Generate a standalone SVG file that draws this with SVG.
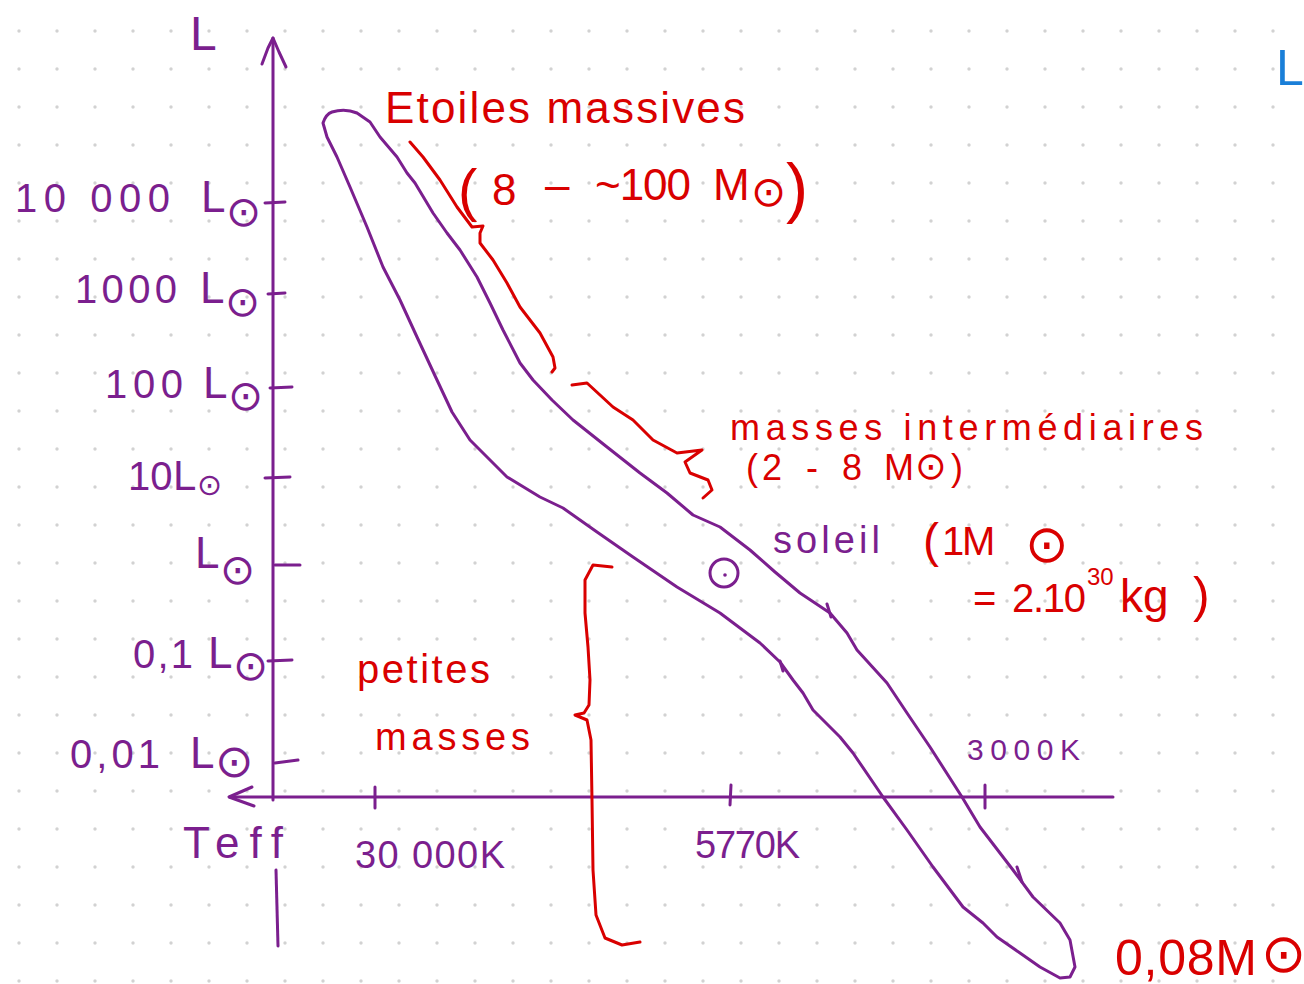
<svg xmlns="http://www.w3.org/2000/svg" width="1304" height="984" viewBox="0 0 1304 984">
<defs>
<pattern id="dots" patternUnits="userSpaceOnUse" x="0" y="0" width="38" height="38">
<circle cx="19" cy="31" r="1.7" fill="#d2d2d2"/>
</pattern>
<style>
.p{fill:none;stroke:#7b1f8e;stroke-width:3;stroke-linecap:round;stroke-linejoin:round}
.r{fill:none;stroke:#d90000;stroke-width:3;stroke-linecap:round;stroke-linejoin:round}
.tp{fill:#7b1f8e;font-family:"Liberation Sans","DejaVu Sans",sans-serif}
.tr{fill:#d90000;font-family:"Liberation Sans","DejaVu Sans",sans-serif}
.sun{font-family:"DejaVu Sans",sans-serif}
</style>
</defs>
<rect width="1304" height="984" fill="#ffffff"/>
<rect width="1304" height="984" fill="url(#dots)"/>

<g id="axes">
<path class="p" d="M273,38 L273,800"/>
<path class="p" d="M262,64 L268,48 L273,38 L279,52 L286,67"/>
<path class="p" d="M230,797 L1113,797"/>
<path class="p" d="M252,787 L229,797 L254,806"/>
<path class="p" d="M265,203 L285,202 M268,294 L285,293 M270,388 L292,387 M265,478 L290,477 M275,565 L300,565 M268,661 L292,660 M275,763 L298,760"/>
<path class="p" d="M375,787 L375,808 M731,785 L730,805 M985,785 L985,808"/>
<path class="p" d="M276,870 Q277,910 278,946"/>
</g>

<g id="main-sequence">
<path class="p" d="M327,137 L323,123 Q326,114 332,112 Q345,108 357,113 L370,122 L380,137 L397,157 L407,173 L415,183 L433,213 L447,233 L460,250 L477,277 L490,303 L503,330 L520,363 L533,380 L552,400 L573,420 L607,447 L640,473 L667,493 L693,515 L720,527 L750,550 L775,572 L800,593 L830,613 L847,633 L857,650 L887,683 L907,713 L930,747 L962,797 L980,827 L1013,870 L1033,897 L1060,923 L1070,940 L1075,967 L1070,977 L1060,978 L1040,967 L1020,953 L997,937 L983,923 L963,907 L933,867 L907,830 L883,797 L853,753 L840,737 L813,710 L803,693 L793,680 L780,662 L760,643 L720,613 L677,587 L633,557 L597,532 L563,508 L540,497 L507,477 L470,440 L452,412 L437,380 L417,337 L400,300 L383,267 L367,227 L350,187 L337,157 L327,137"/>
<path class="p" d="M827,604 L831,617 M780,661 L783,671 M1017,867 L1022,882"/>
</g>

<g id="sun-symbol">
<circle class="p" cx="724" cy="573" r="14"/>
<circle cx="725" cy="575" r="1.8" fill="#7b1f8e"/>
</g>

<g id="braces">
<path class="r" d="M410,142 L423,157 L440,180 L457,207 L472,227 L483,226 L480,233 L480,243 L493,260 L507,283 L520,307 L540,333 L553,357 L555,368 L552,372"/>
<path class="r" d="M572,385 L587,383 L613,407 L633,420 L653,440 L677,453 L702,450 L685,462 L690,473 L708,480 L712,490 L703,498"/>
<path class="r" d="M612,567 L593,565 L585,580 L585,613 L588,647 L590,680 L589,705 L584,713 L575,715 L587,720 L591,740 L592,800 L593,870 L596,915 L605,938 L622,945 L640,942"/>
</g>

<g id="y-labels" class="tp" font-size="40">
<text><tspan x="15" y="212" textLength="155">10 000</tspan><tspan x="201" y="212" font-size="44">L</tspan><tspan class="sun" x="226" y="226" font-size="42">⊙</tspan></text>
<text><tspan x="75" y="303" textLength="102">1000</tspan><tspan x="200" y="303" font-size="44">L</tspan><tspan class="sun" x="225" y="316" font-size="42">⊙</tspan></text>
<text><tspan x="105" y="398" textLength="78">100</tspan><tspan x="203" y="398" font-size="44">L</tspan><tspan class="sun" x="228" y="410" font-size="42">⊙</tspan></text>
<text><tspan x="128" y="490">10</tspan><tspan x="173" y="490" font-size="42">L</tspan><tspan class="sun" x="197" y="495" font-size="30">⊙</tspan></text>
<text><tspan x="195" y="568" font-size="44">L</tspan><tspan class="sun" x="220" y="584" font-size="42">⊙</tspan></text>
<text><tspan x="133" y="668" textLength="60">0,1</tspan><tspan x="208" y="668" font-size="44">L</tspan><tspan class="sun" x="233" y="680" font-size="42">⊙</tspan></text>
<text><tspan x="70" y="768" textLength="90">0,01</tspan><tspan x="190" y="768" font-size="44">L</tspan><tspan class="sun" x="215" y="777" font-size="46">⊙</tspan></text>
</g>

<g id="axis-labels" class="tp">
<text x="190" y="50" font-size="48">L</text>
<text x="183" y="858" font-size="44" textLength="100">Teff</text>
<text x="355" y="868" font-size="38" textLength="150">30 000K</text>
<text x="695" y="858" font-size="38" textLength="105">5770K</text>
<text x="967" y="760" font-size="30" textLength="113">3000K</text>
<text x="773" y="553" font-size="38" textLength="107">soleil</text>
</g>

<g id="red-labels" class="tr">
<text x="385" y="123" font-size="44" textLength="360">Etoiles massives</text>
<text font-size="44"><tspan x="458" font-size="58" y="210">(</tspan><tspan x="492" y="205">8</tspan><tspan x="545" y="200">–</tspan><tspan x="595" y="200" textLength="96">~100</tspan><tspan x="713" y="200">M</tspan><tspan class="sun" x="751" y="206" font-size="42">⊙</tspan><tspan x="786" y="210" font-size="66">)</tspan></text>
<text x="730" y="440" font-size="36" textLength="473">masses intermédiaires</text>
<text font-size="36"><tspan x="746" y="480">(</tspan><tspan x="762" y="480" textLength="100">2 - 8</tspan><tspan x="884" y="480">M</tspan><tspan class="sun" x="915" y="479" font-size="38">⊙</tspan><tspan x="951" y="480">)</tspan></text>
<text font-size="40"><tspan x="923" y="557" font-size="48">(</tspan><tspan x="942" y="555">1</tspan><tspan x="962" y="555">M</tspan><tspan class="sun" x="1025" y="562" font-size="52">⊙</tspan></text>
<text font-size="40"><tspan x="973" y="612">=</tspan><tspan x="1012" y="612" textLength="74">2.10</tspan><tspan x="1087" y="585" font-size="24">30</tspan><tspan x="1120" y="612" font-size="46">kg</tspan><tspan x="1193" y="612" font-size="50">)</tspan></text>
<text x="357" y="683" font-size="40" textLength="133">petites</text>
<text x="375" y="750" font-size="38" textLength="155">masses</text>
<text font-size="50"><tspan x="1115" y="975" textLength="142">0,08M</tspan><tspan class="sun" x="1261" y="972" font-size="54">⊙</tspan></text>
</g>

<g id="blue-mark">
<text x="1276" y="85" font-size="50" fill="#1a7fd8" font-family="Liberation Sans, sans-serif">L</text>
</g>
</svg>
